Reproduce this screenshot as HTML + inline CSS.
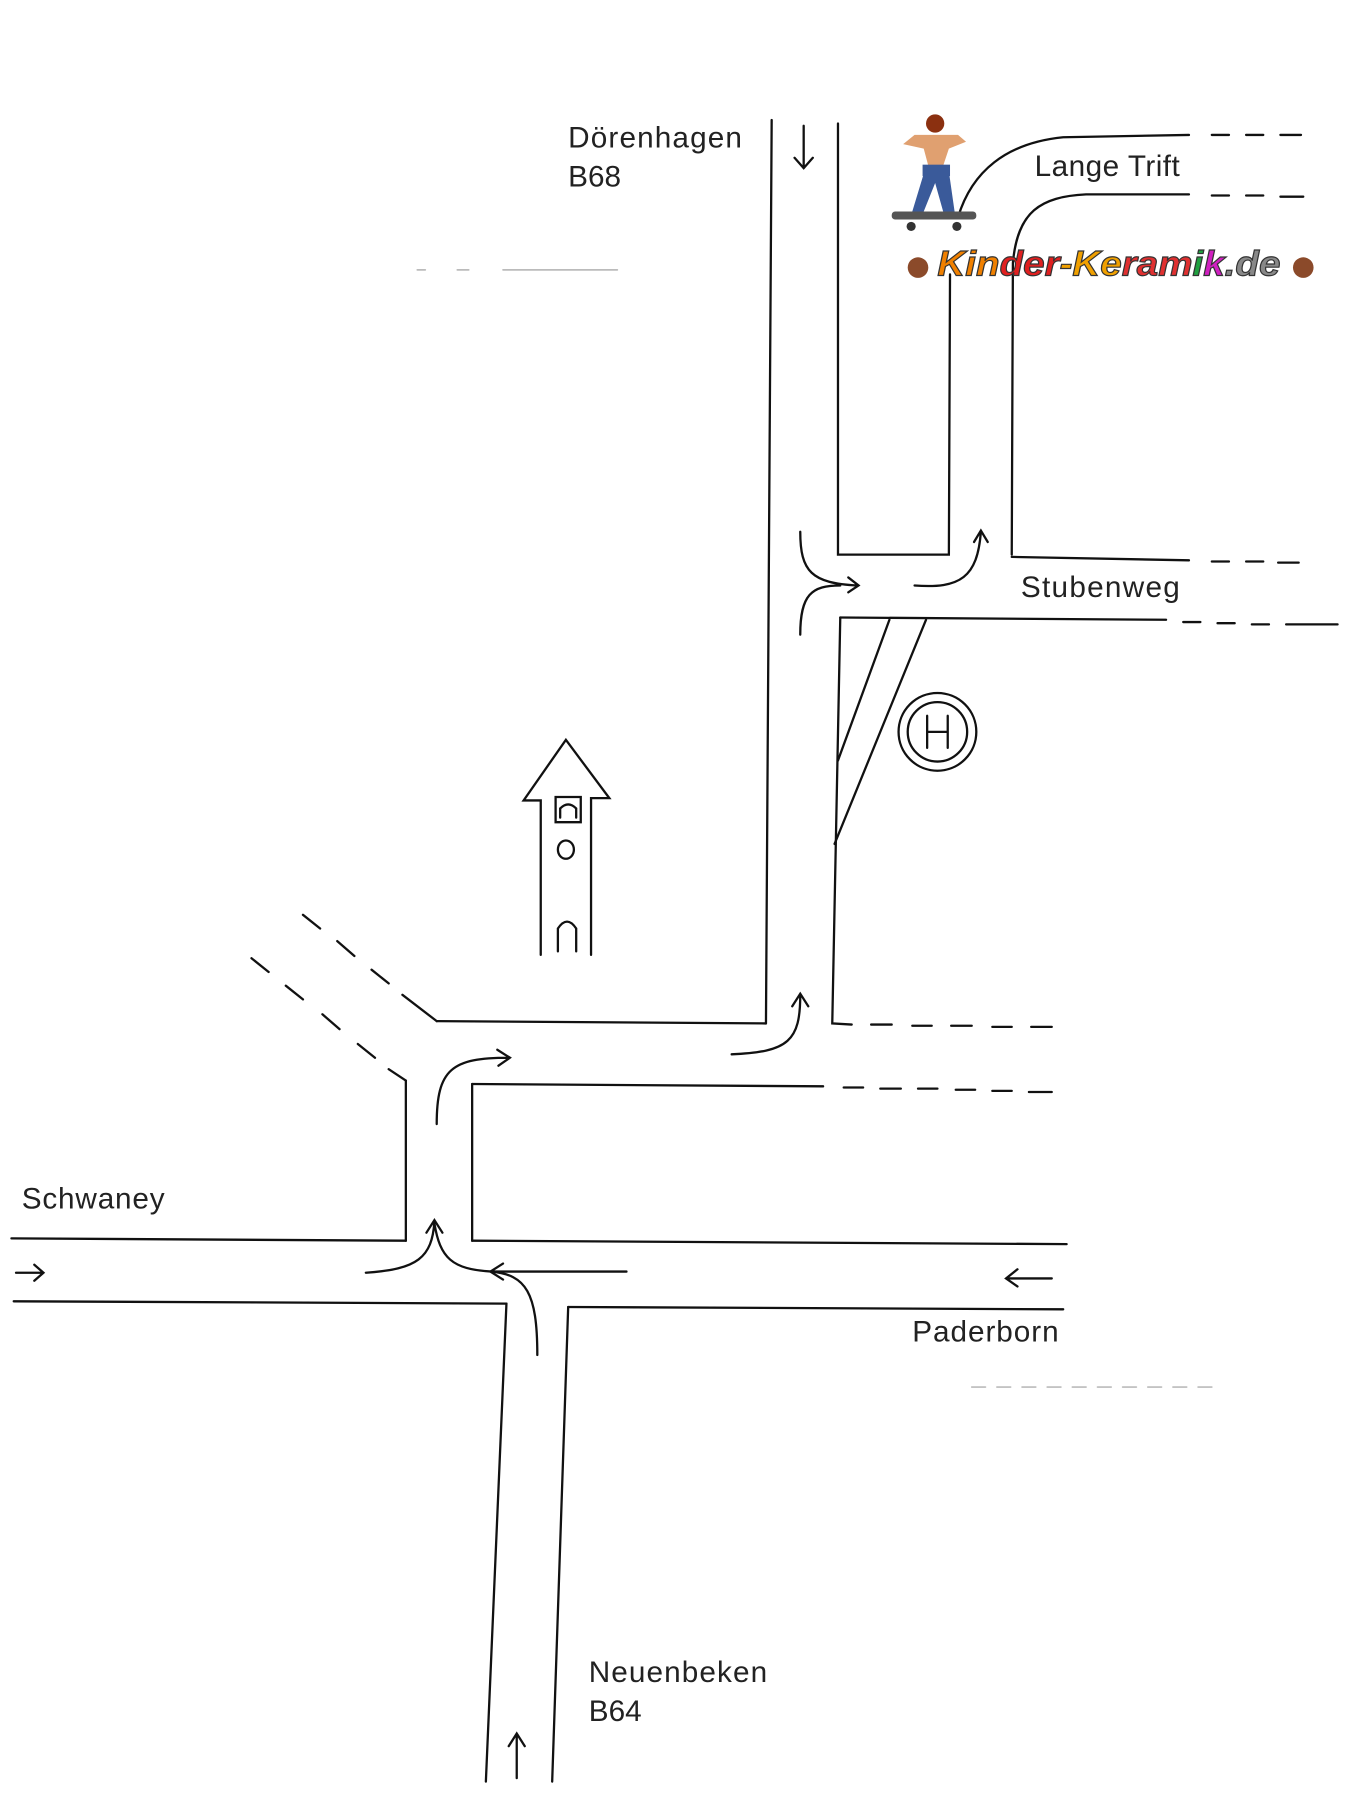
<!DOCTYPE html>
<html><head><meta charset="utf-8"><style>
html,body{margin:0;padding:0;background:#fff;}
svg{display:block}
text{font-family:"Liberation Sans",sans-serif;fill:#222;}
</style></head><body>
<svg width="1349" height="1793" viewBox="0 0 1180 1568" preserveAspectRatio="none">
<rect width="1180" height="1568" fill="#fff"/>
<g stroke="#111" stroke-width="2" fill="none" stroke-linecap="round">
<path d="M675 105 L670 895"/>
<path d="M733 108 L733 485 L830 485 L831 240"/>
<path d="M838 190 C850 150 880 125 930 120 L1040 118"/>
<path d="M1060 118 H1075 M1090 118 H1105 M1120 118 H1138"/>
<path d="M885 485 L886 230 C890 185 910 172 950 170 L1040 170"/>
<path d="M1060 171 H1075 M1090 171 H1105 M1120 172 H1140"/>
<path d="M885 487 L1040 490"/>
<path d="M1060 491 H1075 M1090 491 H1105 M1118 492 H1136"/>
<path d="M735 540 L1020 542"/>
<path d="M1035 544 H1050 M1065 545 H1080 M1095 546 H1110 M1125 546 H1170"/>
<path d="M735 540 L728 895 L745 896"/>
<path d="M762 896 H780 M798 897 H815 M832 897 H850 M868 898 H885 M902 898 H920" />
<path d="M778 542 L733 665"/>
<path d="M810 542 L730 738"/>
<circle cx="820" cy="640" r="34"/>
<circle cx="820" cy="640" r="26"/>
<path d="M811 626 V654 M829 626 V654 M811 640 H829"/>
<path d="M382 893 L670 895"/>
<path d="M265 800 L280 812 M295 823 L310 836 M325 848 L340 860 M352 870 L382 893"/>
<path d="M220 838 L235 850 M250 862 L265 874 M282 887 L297 900 M313 913 L328 925 M340 935 L355 945"/>
<path d="M355 945 L355 1085"/>
<path d="M413 948 L413 1085"/>
<path d="M413 948 L720 950"/>
<path d="M738 951 H755 M770 952 H788 M803 952 H820 M836 953 H853 M868 954 H885 M900 955 H920"/>
<path d="M10 1083 L355 1085"/>
<path d="M413 1085 L933 1088"/>
<path d="M12 1138 L443 1140"/>
<path d="M497 1143 L930 1145"/>
<path d="M443 1140 L425 1558"/>
<path d="M497 1143 L483 1558"/>
<path d="M365 236 H372 M400 236 H410 M440 236 H540" stroke="#bbb" stroke-width="1.5"/>
<path d="M850 1213 H1068" stroke="#bbb" stroke-width="1.5" stroke-dasharray="12 10"/>
<path d="M703 110 V147 M695 138 L703 147 L711 138"/>
<path d="M700 465 C700 500 710 510 750 512 M742 505 L751 512 L742 518"/>
<path d="M700 555 C700 520 710 512 735 512"/>
<path d="M800 512 C840 515 855 505 858 465 M852 474 L858 464 L864 474"/>
<path d="M640 922 C690 920 700 910 700 870 M693 880 L700 869 L707 880"/>
<path d="M382 983 C382 935 395 925 445 925 M435 918 L446 925 L436 932"/>
<path d="M320 1113 C365 1110 378 1100 380 1068 M373 1078 L380 1067 L387 1078"/>
<path d="M380 1070 C385 1100 395 1110 430 1112"/>
<path d="M548 1112 H430 M440 1105 L429 1112 L440 1119"/>
<path d="M470 1185 C470 1130 460 1115 430 1112"/>
<path d="M14 1113 H38 M30 1106 L38 1113 L30 1120"/>
<path d="M920 1118 H880 M890 1110 L880 1118 L890 1125"/>
<path d="M452 1555 V1517 M445 1527 L452 1516 L459 1527"/>
<path d="M473 835 V700 H458 L495 647 L533 698 H517 V835"/>
<path d="M486 697 H508 V719 H486 Z"/>
<path d="M490 715 V707 Q497 700 504 707 V715"/>
<ellipse cx="495" cy="743" rx="7" ry="8"/>
<path d="M488 832 V812 Q496 800 504 812 V832"/>
</g>
<g>
<circle cx="818" cy="108" r="8" fill="#8b3010"/>
<path d="M800 118 H838 L845 124 L830 130 L825 145 L812 145 L808 130 L790 126 Z" fill="#e0a070"/>
<rect x="807" y="144" width="24" height="10" fill="#3a5a9a"/>
<path d="M808 152 L798 185 L808 185 L818 160 L825 185 L835 185 L830 150 Z" fill="#3a5a9a"/>
<rect x="780" y="185" width="74" height="7" rx="3" fill="#555"/>
<circle cx="797" cy="198" r="4" fill="#333"/>
<circle cx="837" cy="198" r="4" fill="#333"/>
</g>
<g>
<circle cx="803" cy="234" r="9" fill="#8b4a2a"/>
<circle cx="1140" cy="234" r="9" fill="#8b4a2a"/>
<text x="820" y="241" font-size="31" textLength="300" lengthAdjust="spacingAndGlyphs" style="font-weight:bold;font-style:italic" stroke="#333" stroke-width="1">
<tspan fill="#f08000">Kin</tspan><tspan fill="#e02020">der</tspan><tspan fill="#f0a000">-Ke</tspan><tspan fill="#e03030">ram</tspan><tspan fill="#20a040">i</tspan><tspan fill="#d020c0">k</tspan><tspan fill="#888">.de</tspan></text>
</g>
<g font-size="26">
<text x="497" y="129" textLength="152">Dörenhagen</text>
<text x="497" y="163">B68</text>
<text x="905" y="154" textLength="127">Lange Trift</text>
<text x="893" y="522" textLength="139">Stubenweg</text>
<text x="19" y="1057" textLength="125">Schwaney</text>
<text x="798" y="1173" textLength="128">Paderborn</text>
<text x="515" y="1471" textLength="156">Neuenbeken</text>
<text x="515" y="1505">B64</text>
</g>
</svg>
</body></html>
